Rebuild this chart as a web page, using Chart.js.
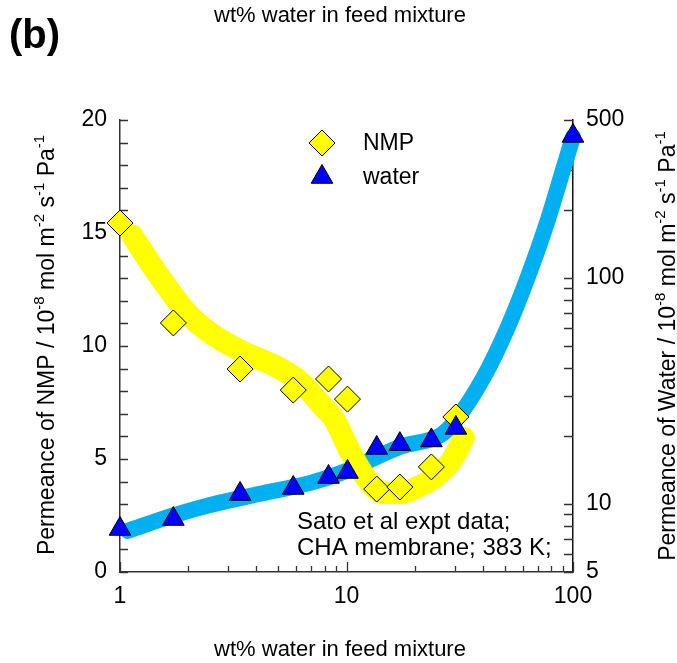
<!DOCTYPE html>
<html>
<head>
<meta charset="utf-8">
<script src="https://cdn.jsdelivr.net/npm/chart.js@4.4.1/dist/chart.umd.min.js"></script>
<style>
  html, body { margin: 0; padding: 0; background: #fff; }
  canvas { display: block; }
</style>
</head>
<body>
<canvas id="chart" width="677" height="663"></canvas>
<script>
// measured points (Sato et al)
const feedWt = [1, 1.72, 3.39, 5.82, 8.33, 10.1, 13.6, 17.2, 23.7, 30.4];
const nmpPermeance = [15.44, 11.02, 8.98, 8.05, 8.54, 7.65, 3.67, 3.76, 4.65, 6.86];
const waterFeedWt = [1, 1.72, 3.39, 5.82, 8.33, 10.1, 13.6, 17.2, 23.7, 30.4, 100];
const waterPermeance = [7.75, 8.58, 11.07, 11.77, 13.16, 13.85, 17.7, 18.4, 19.1, 21.7, 425];

// model curves
const nmpFitX = [1.13, 1.5, 1.98, 2.5, 3.5, 4.95, 6.26, 7.91, 8.76, 10.4, 12.4, 14.6, 17.3, 20.6, 24.3, 28.8, 33.0];
const nmpFitY = [14.9, 13.05, 11.46, 10.58, 9.73, 9.07, 8.41, 7.3, 6.81, 5.31, 4.07, 3.5, 3.5, 3.76, 4.16, 4.87, 5.93];
const waterFitX = [1.08, 1.72, 2.5, 4.16, 6.93, 9.7, 17.3, 26.1, 29.7, 40.4, 51.6, 63.2, 77.5, 91.2, 100];
const waterFitY = [7.6, 8.9, 9.9, 11.1, 12.4, 13.85, 17.9, 20.2, 22.8, 36.5, 60.7, 101, 181, 310, 421];

// axis ticks
const xLabelTicks = [1, 10, 100];
const xMinorTicks = [2, 3, 4, 5, 6, 7, 8, 9, 20, 30, 40, 50, 60, 70, 80, 90];
const leftTicks = [0, 1, 2, 3, 4, 5, 6, 7, 8, 9, 10, 11, 12, 13, 14, 15, 16, 17, 18, 19, 20];
const rightLabelTicks = [5, 10, 100, 500];
const rightTicks = [5, 6, 7, 8, 9, 10, 20, 30, 40, 50, 60, 70, 80, 90, 100, 200, 300, 500];

const FONT = '"Liberation Sans", Arial, sans-serif';

const pts = (xs, ys) => xs.map((x, i) => ({ x: x, y: ys[i] }));

// text with superscripts, optionally rotated
function richText(ctx, parts, x, y, size, supSize, rotate) {
  ctx.save();
  ctx.translate(x, y);
  if (rotate) ctx.rotate(-Math.PI / 2);
  let total = 0;
  parts.forEach(p => {
    ctx.font = (p[1] ? supSize : size) + 'px ' + FONT;
    total += ctx.measureText(p[0]).width;
  });
  let cx = -total / 2;
  ctx.textBaseline = 'alphabetic';
  ctx.textAlign = 'left';
  ctx.fillStyle = '#000';
  parts.forEach(p => {
    ctx.font = (p[1] ? supSize : size) + 'px ' + FONT;
    ctx.fillText(p[0], cx, p[1] ? -size * 0.42 : 0);
    cx += ctx.measureText(p[0]).width;
  });
  ctx.restore();
}

const tickMarks = {
  id: 'tickMarks',
  beforeDatasetsDraw(chart) {
    const { ctx, chartArea: a, scales } = chart;
    ctx.save();
    ctx.strokeStyle = '#333';
    ctx.lineWidth = 1.3;
    ctx.beginPath();
    leftTicks.forEach(v => {
      const y = Math.round(scales.y.getPixelForValue(v)) + 0.5;
      ctx.moveTo(a.left, y); ctx.lineTo(a.left + 8, y);
    });
    rightTicks.forEach(v => {
      const y = Math.round(scales.y2.getPixelForValue(v)) + 0.5;
      ctx.moveTo(a.right, y); ctx.lineTo(a.right - 9, y);
    });
    xMinorTicks.forEach(v => {
      const x = Math.round(scales.x.getPixelForValue(v)) + 0.5;
      ctx.moveTo(x, a.bottom); ctx.lineTo(x, a.bottom - 6);
    });
    xLabelTicks.forEach(v => {
      const x = Math.round(scales.x.getPixelForValue(v)) + 0.5;
      ctx.moveTo(x, a.bottom); ctx.lineTo(x, a.bottom - 10);
    });
    ctx.stroke();
    ctx.restore();
  }
};

const extraText = {
  id: 'extraText',
  afterDraw(chart) {
    const ctx = chart.ctx;
    ctx.save();
    ctx.fillStyle = '#000';
    ctx.font = 'bold 40px ' + FONT;
    ctx.textAlign = 'left';
    ctx.textBaseline = 'alphabetic';
    ctx.fillText('(b)', 9, 48);

    ctx.font = '22px ' + FONT;
    ctx.textAlign = 'center';
    ctx.fillText('wt% water in feed mixture', 340, 22);
    ctx.fillText('wt% water in feed mixture', 340, 656);

    ctx.textAlign = 'left';
    ctx.font = '24px ' + FONT;
    ctx.fillText('Sato et al expt data;', 297, 529);
    ctx.fillText('CHA membrane; 383 K;', 297, 555);

    // legend
    ctx.font = '23px ' + FONT;
    ctx.textBaseline = 'middle';
    ctx.fillText('NMP', 363, 144);
    ctx.fillText('water', 363, 178);
    ctx.lineWidth = 1;
    ctx.strokeStyle = '#000';
    ctx.fillStyle = '#ffff00';
    Chart.helpers.drawPoint(ctx, { pointStyle: 'rectRot', radius: 13, rotation: 0, borderWidth: 1 }, 322, 143);
    ctx.fillStyle = '#0000ff';
    Chart.helpers.drawPoint(ctx, { pointStyle: 'triangle', radius: 12.5, rotation: 0, borderWidth: 1 }, 322, 177);
    ctx.restore();

    richText(ctx, [['Permeance of NMP / 10'], ['-8', 1], [' mol m'], ['-2', 1], [' s'], ['-1', 1], [' Pa'], ['-1', 1]], 54, 345, 23, 15, true);
    richText(ctx, [['Permeance of Water / 10'], ['-8', 1], [' mol m'], ['-2', 1], [' s'], ['-1', 1], [' Pa'], ['-1', 1]], 675, 346, 23, 15, true);
  }
};

new Chart(document.getElementById('chart'), {
  type: 'scatter',
  data: {
    datasets: [
      {
        label: 'water',
        data: pts(waterFeedWt, waterPermeance),
        yAxisID: 'y2',
        pointStyle: 'triangle',
        pointRadius: 12.5,
        backgroundColor: '#0000ff',
        borderColor: '#000',
        borderWidth: 1,
        clip: false,
        order: 0
      },
      {
        label: 'NMP',
        data: pts(feedWt, nmpPermeance),
        yAxisID: 'y',
        pointStyle: 'rectRot',
        pointRadius: 13,
        backgroundColor: '#ffff00',
        borderColor: '#000',
        borderWidth: 1,
        clip: false,
        order: 1
      },
      {
        label: 'NMP model',
        type: 'line',
        data: pts(nmpFitX, nmpFitY),
        yAxisID: 'y',
        showLine: true,
        borderColor: '#ffff00',
        borderWidth: 22,
        borderCapStyle: 'round',
        borderJoinStyle: 'round',
        cubicInterpolationMode: 'monotone',
        pointRadius: 0,
        fill: false,
        clip: false,
        order: 2
      },
      {
        label: 'water model',
        type: 'line',
        data: pts(waterFitX, waterFitY),
        yAxisID: 'y2',
        showLine: true,
        borderColor: '#00b0f0',
        borderWidth: 16,
        borderCapStyle: 'round',
        borderJoinStyle: 'round',
        cubicInterpolationMode: 'monotone',
        pointRadius: 0,
        fill: false,
        clip: false,
        order: 3
      }
    ]
  },
  options: {
    responsive: false,
    animation: false,
    events: [],
    layout: { padding: { top: 120, left: 0, right: 0, bottom: 0 } },
    plugins: { legend: { display: false }, tooltip: { enabled: false } },
    scales: {
      x: {
        type: 'logarithmic',
        min: 1, max: 100,
        afterFit: s => { s.height = 91; },
        afterBuildTicks: s => { s.ticks = xLabelTicks.map(v => ({ value: v })); },
        grid: { display: false, drawTicks: false },
        border: { display: true, color: '#333', width: 1.5 },
        ticks: {
          padding: 11,
          color: '#000',
          maxRotation: 0,
          autoSkip: false,
          font: { family: FONT, size: 23 },
          callback: v => String(v)
        }
      },
      y: {
        position: 'left',
        min: 0, max: 20,
        afterFit: s => { s.width = 120; },
        grid: { display: false, drawTicks: false },
        border: { display: true, color: '#333', width: 1.5 },
        ticks: {
          stepSize: 5,
          padding: 13,
          color: '#000',
          font: { family: FONT, size: 23 }
        }
      },
      y2: {
        type: 'logarithmic',
        position: 'right',
        min: 5, max: 500,
        afterFit: s => { s.width = 104; },
        afterBuildTicks: s => { s.ticks = rightLabelTicks.map(v => ({ value: v })); },
        grid: { display: false, drawTicks: false },
        border: { display: true, color: '#111', width: 1.5 },
        ticks: {
          padding: 13,
          color: '#000',
          autoSkip: false,
          font: { family: FONT, size: 23 },
          callback: v => String(v)
        }
      }
    }
  },
  plugins: [tickMarks, extraText]
});
</script>
</body>
</html>
